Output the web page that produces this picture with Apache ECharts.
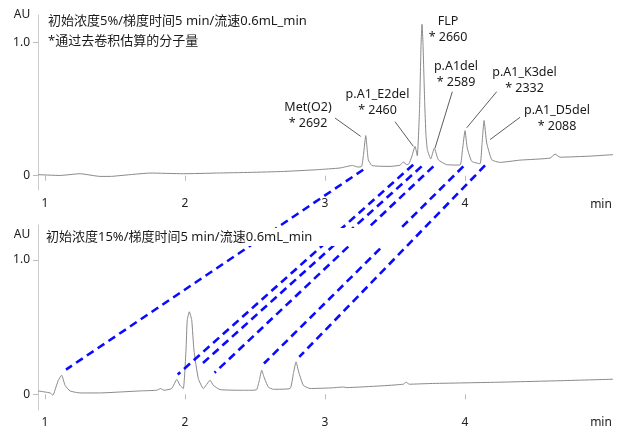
<!DOCTYPE html>
<html><head><meta charset="utf-8">
<script src="https://cdn.jsdelivr.net/npm/echarts@6/dist/echarts.min.js"></script>
<style>html,body{margin:0;padding:0;background:#fff}#c{width:621px;height:435px}</style>
</head><body><div id="c"></div>
<script>
// ---- data ----
const xTicks = [1, 2, 3, 4];
const yTicks = [0, 1];
const topTime = [0.95,1.107,1.25,1.393,1.464,1.607,1.75,1.988,2.226,2.464,2.702,2.941,3.107,3.196,3.236,3.262,3.275,3.291,3.309,3.334,3.393,3.464,3.536,3.559,3.584,3.6,3.619,3.643,3.659,3.675,3.686,3.693,3.7,3.712,3.721,3.731,3.755,3.781,3.809,3.869,3.964,3.982,4.0,4.016,4.048,4.107,4.121,4.136,4.155,4.191,4.25,4.393,4.607,4.643,4.679,4.893,5.057];
const topAU   = [0.008,0.002,0.015,-0.005,-0.005,0.008,0.020,0.015,0.020,0.025,0.032,0.045,0.058,0.077,0.065,0.070,0.158,0.301,0.120,0.077,0.071,0.070,0.079,0.103,0.083,0.090,0.141,0.220,0.150,0.496,0.985,1.135,0.985,0.549,0.308,0.195,0.126,0.208,0.120,0.083,0.080,0.195,0.338,0.208,0.108,0.090,0.233,0.414,0.246,0.120,0.100,0.117,0.132,0.162,0.139,0.147,0.158];
const botTime = [0.95,1.036,1.057,1.071,1.095,1.119,1.143,1.179,1.25,1.393,1.536,1.679,1.798,1.826,1.85,1.905,1.941,1.964,1.988,2.007,2.016,2.031,2.048,2.064,2.095,2.131,2.179,2.202,2.25,2.393,2.486,2.512,2.531,2.548,2.564,2.595,2.631,2.75,2.774,2.793,2.812,2.845,2.893,3.036,3.131,3.155,3.393,3.559,3.579,3.602,3.75,4.25,4.679,5.057];
const botAU   = [0.025,0.010,-0.007,0.030,0.104,0.142,0.067,0.025,0.010,0.010,0.017,0.025,0.030,0.043,0.030,0.043,0.110,0.067,0.043,0.328,0.552,0.614,0.552,0.328,0.117,0.043,0.104,0.067,0.035,0.030,0.030,0.035,0.104,0.179,0.129,0.054,0.037,0.043,0.154,0.241,0.166,0.067,0.043,0.047,0.054,0.050,0.062,0.075,0.090,0.075,0.080,0.090,0.101,0.112];
// connectors: top-panel point -> bottom-panel point
const linkTopTime = [3.273, 3.63, 3.69, 3.774, 3.988, 4.143];
const linkTopAU   = [0.045, 0.083, 0.07, 0.07, 0.07, 0.077];
const linkBotTime = [1.15, 1.948, 2.107, 2.211, 2.564, 2.816];
const linkBotAU   = [0.184, 0.147, 0.213, 0.160, 0.229, 0.278];
// peak annotations
const peakNames  = ['Met(O2)', 'p.A1_E2del', 'FLP', 'p.A1del', 'p.A1_K3del', 'p.A1_D5del'];
const peakMasses = ['2692', '2460', '2660', '2589', '2332', '2088'];
const leaderTipTime = [3.255, 3.631, null, 3.786, 4.012, 4.179];
const leaderTipAU   = [0.295, 0.220, null, 0.208, 0.359, 0.271];
const titleTop1 = '初始浓度5%/梯度时间5 min/流速0.6mL_min';
const titleTop2 = '*通过去卷积估算的分子量';
const titleBot  = '初始浓度15%/梯度时间5 min/流速0.6mL_min';

// ---- layout (pixels, not data) ----
const labelXY = [[308,107],[377.5,94],[448,21.7],[456,66.7],[524.5,72.7],[557,110]];
const leaderStart = [[335,118],[395,121.7],null,[452.3,91.7],[496.7,91.7],[520,117.3]];

const FONT = '"Noto Sans", "Noto Sans CJK SC", sans-serif';
const zip = (a, b) => a.map((v, i) => [v, b[i]]);
const chart = echarts.init(document.getElementById('c'), null, {renderer: 'canvas'});

function xAx(gi) {
  return {
    type: 'value', gridIndex: gi, min: 0.95, max: 5.057,
    axisLine: {show: false}, splitLine: {show: false},
    axisTick: {show: true, customValues: xTicks, length: 5, lineStyle: {color: '#bbb'}},
    axisLabel: {customValues: xTicks, color: '#222', fontSize: 12, fontFamily: FONT, margin: gi ? 7 : 8}
  };
}
function yAx(gi, mn, mx) {
  return {
    type: 'value', gridIndex: gi, min: mn, max: mx,
    axisLine: {show: true, lineStyle: {color: '#ccc', width: 1}},
    splitLine: {show: false},
    axisTick: {show: true, customValues: yTicks, length: 5, lineStyle: {color: '#bbb'}},
    axisLabel: {customValues: yTicks, color: '#222', fontSize: 12, fontFamily: FONT, margin: 8,
      formatter: v => v === 0 ? '0' : v.toFixed(1)}
  };
}

chart.setOption({
  animation: false,
  backgroundColor: '#fff',
  grid: [
    {left: 38, top: 15, width: 575, height: 175},
    {left: 38, top: 225, width: 575, height: 185}
  ],
  xAxis: [xAx(0), xAx(1)],
  yAxis: [yAx(0, -0.107, 1.205), yAx(1, -0.117, 1.26)],
  series: [
    {type: 'line', xAxisIndex: 0, yAxisIndex: 0, data: zip(topTime, topAU), showSymbol: false,
     lineStyle: {color: '#8a8a8a', width: 1}, smooth: 0.15},
    {type: 'line', xAxisIndex: 1, yAxisIndex: 1, data: zip(botTime, botAU), showSymbol: false,
     lineStyle: {color: '#8a8a8a', width: 1}, smooth: 0.15}
  ]
});

const g = [];
// connectors
linkTopTime.forEach((t, i) => {
  const p1 = chart.convertToPixel({xAxisIndex: 0, yAxisIndex: 0}, [t, linkTopAU[i]]);
  const p2 = chart.convertToPixel({xAxisIndex: 1, yAxisIndex: 1}, [linkBotTime[i], linkBotAU[i]]);
  g.push({type: 'line', z: 10, shape: {x1: p1[0], y1: p1[1], x2: p2[0], y2: p2[1]},
    style: {stroke: '#0a0aff', lineWidth: 2.6, lineDash: [8, 5]}});
});
// white box behind bottom title
g.push({type: 'rect', z: 20, shape: {x: 44, y: 228, width: 358, height: 18}, style: {fill: '#fff'}});
const txt = (x, y, s, align, size) => ({type: 'text', z: 30, x: x, y: y,
  style: {text: s, fill: '#1a1a1a', font: (size || 12.5) + 'px ' + FONT, align: align || 'left', verticalAlign: 'middle'}});
g.push(txt(48, 21, titleTop1, 'left', 13));
g.push(txt(48, 41, titleTop2, 'left', 13));
g.push(txt(46, 237, titleBot, 'left', 13));
g.push(txt(22, 15, 'AU', 'center', 12));
g.push(txt(22, 235, 'AU', 'center', 12));
g.push(txt(601, 205, 'min', 'center', 12));
g.push(txt(601, 423, 'min', 'center', 12));
// peak labels
peakNames.forEach((n, i) => {
  const [cx, cy] = labelXY[i];
  g.push(txt(cx, cy, n, 'center', 12.5));
  g.push(txt(cx, cy + 16, '* ' + peakMasses[i], 'center', 12.5));
  if (leaderStart[i]) {
    const tip = chart.convertToPixel({xAxisIndex: 0, yAxisIndex: 0}, [leaderTipTime[i], leaderTipAU[i]]);
    g.push({type: 'line', z: 15, shape: {x1: leaderStart[i][0], y1: leaderStart[i][1], x2: tip[0], y2: tip[1]},
      style: {stroke: '#333', lineWidth: 0.8}});
  }
});
chart.setOption({graphic: g});
</script></body></html>
